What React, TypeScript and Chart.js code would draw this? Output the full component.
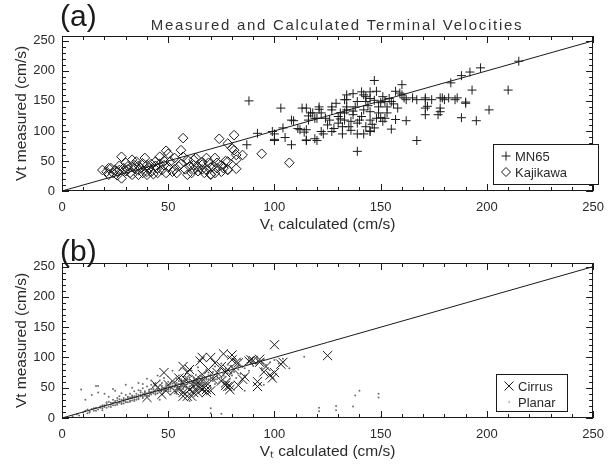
import React, { useEffect, useRef } from 'react';
import { Chart, registerables } from 'chart.js';

Chart.register(...registerables);

// ---------- data ----------
const X_TICKS = [0, 50, 100, 150, 200, 250];
const Y_TICKS = [0, 50, 100, 150, 200, 250];
const TITLE_A = 'Measured and Calculated Terminal Velocities';
const X_LABEL = 'V\u209C calculated (cm/s)';
const Y_LABEL = 'Vt measured (cm/s)';
const ONE_TO_ONE: [number, number][] = [[0, 0], [250, 250]];

const MN65: [number, number][] = [
  [88, 150], [92, 96], [87, 77], [103, 138], [100, 95], [100, 84], [105, 89], [108, 77], [113, 138], [115, 138],
  [116, 125], [121, 136], [111, 104], [109, 117], [114, 98], [119, 87], [115, 84], [120, 84], [123, 95], [127, 135],
  [131, 130], [134, 135], [134, 152], [137, 162], [141, 165], [143, 157], [147, 184], [145, 165], [145, 154], [151, 157],
  [154, 154], [160, 177], [162, 152], [167, 152], [171, 152], [174, 152], [180, 152], [185, 152], [183, 180], [188, 192],
  [192, 198], [197, 205], [193, 168], [201, 135], [190, 146], [188, 122], [195, 117], [210, 168], [215, 216], [177, 127],
  [178, 138], [171, 138], [171, 127], [167, 84], [157, 119], [162, 117], [155, 103], [139, 66], [145, 100], [142, 95],
  [146, 111], [150, 122], [121, 140], [127, 140], [117, 130], [116, 118], [115, 102], [115, 85], [122, 99], [127, 99],
  [132, 95], [139, 95], [145, 99], [147, 105], [151, 116], [130, 124], [130, 113], [133, 118], [136, 116], [140, 118],
  [134, 140], [138, 140], [142, 135], [145, 132], [149, 140], [153, 140], [158, 138], [139, 149], [143, 149], [147, 151],
  [152, 149], [155, 149], [129, 146], [133, 152], [124, 121], [119, 121], [132, 107], [135, 107], [139, 113], [143, 107],
  [149, 130], [153, 130], [152, 121], [157, 166], [159, 163], [161, 155], [133, 130], [137, 127], [145, 118], [148, 121],
  [172, 141], [178, 132], [171, 155], [178, 155], [182, 155], [165, 155], [160, 160], [148, 166], [142, 160], [134, 160],
  [118, 130], [99, 99], [100, 86], [108, 118], [104, 105], [112, 102], [120, 121], [122, 130], [186, 155], [190, 148],
  [179, 155], [125, 110], [128, 104], [136, 101], [141, 124], [126, 118], [131, 120], [137, 133], [144, 142], [150, 147],
  [156, 145],
];

const KAJIKAWA: [number, number][] = [
  [57, 88], [56, 68], [28, 57], [49, 67], [19, 35], [22, 27], [23, 38], [26, 32], [28, 21], [31, 41],
  [32, 30], [35, 49], [37, 38], [36, 27], [40, 43], [39, 55], [42, 32], [44, 49], [45, 38], [46, 57],
  [48, 43], [51, 49], [52, 32], [53, 55], [55, 41], [59, 52], [60, 41], [59, 27], [62, 43], [63, 55],
  [40, 27], [45, 30], [49, 30], [34, 43], [36, 35], [40, 32], [22, 38], [25, 35], [29, 38], [34, 38],
  [74, 87], [78, 79], [81, 93], [78, 36], [81, 68], [82, 52], [85, 60], [82, 37], [77, 50], [75, 43],
  [94, 62], [107, 47], [66, 44], [69, 47], [73, 47], [62, 52], [68, 55], [72, 55], [62, 36], [70, 28],
  [70, 39], [66, 36], [80, 71], [82, 60], [78, 49], [76, 38], [78, 35], [70, 27], [24, 30], [27, 42],
  [30, 33], [33, 27], [38, 46], [41, 38], [43, 28], [47, 35], [50, 40], [53, 36], [56, 45], [58, 36],
  [61, 30], [64, 40], [66, 48], [68, 35], [71, 42], [73, 38], [75, 32], [72, 30], [67, 30], [64, 33],
  [30, 47], [26, 26], [33, 52], [38, 30], [44, 42], [48, 50], [54, 30], [57, 57], [50, 62], [46, 45],
  [42, 45], [36, 42], [31, 36], [27, 35], [21, 32],
];

const CIRRUS: [number, number][] = [
  [100, 121], [125, 103], [104, 92], [98, 71], [100, 75], [95, 76], [96, 85], [92, 60], [86, 68], [83, 54],
  [80, 104], [76, 106], [70, 100], [66, 100], [72, 91], [80, 96], [83, 91], [75, 85], [73, 75], [78, 80],
  [89, 96], [90, 95], [93, 97], [77, 75], [75, 61], [77, 58], [79, 53], [77, 54], [71, 64], [69, 80],
  [66, 72], [60, 80], [57, 85], [48, 75], [52, 61], [50, 55], [44, 55], [45, 50], [40, 34], [47, 39],
  [49, 45], [53, 45], [55, 50], [57, 42], [60, 47], [58, 53], [62, 58], [63, 64], [64, 58], [66, 61],
  [68, 58], [65, 50], [62, 42], [59, 36], [67, 50], [68, 47], [70, 45], [68, 42], [64, 42], [57, 58],
  [55, 66], [103, 89], [92, 52], [99, 66], [85, 64], [65, 94], [59, 75], [58, 64], [62, 52], [64, 52],
  [66, 47], [55, 47], [57, 36], [61, 36], [78, 52], [79, 47], [81, 80], [82, 92], [88, 94], [93, 92],
];

const PLANAR: [number, number][] = [
  [5, 3], [7, 6], [8, 4], [10, 9], [11, 12], [12, 8], [13, 11], [14, 15], [14, 38], [15, 12],
  [16, 17], [17, 14], [17, 42], [18, 19], [19, 16], [20, 21], [20, 18], [9, 47], [17, 53], [21, 23],
  [22, 19], [22, 27], [23, 22], [24, 25], [24, 30], [25, 21], [25, 28], [26, 24], [26, 33], [27, 27],
  [27, 36], [28, 25], [28, 30], [29, 33], [29, 28], [30, 26], [30, 38], [31, 31], [31, 35], [32, 29],
  [32, 40], [33, 33], [33, 37], [34, 31], [34, 44], [35, 36], [35, 40], [25, 45], [28, 41], [22, 35],
  [36, 33], [36, 46], [37, 38], [37, 42], [38, 35], [38, 49], [39, 40], [39, 44], [40, 37], [40, 52],
  [41, 42], [41, 47], [42, 39], [42, 55], [43, 44], [43, 48], [44, 41], [44, 58], [45, 46], [45, 51],
  [46, 43], [46, 62], [47, 49], [47, 53], [48, 45], [48, 66], [49, 50], [49, 56], [50, 47], [50, 60],
  [38, 56], [42, 62], [33, 50], [51, 52], [51, 44], [52, 57], [52, 49], [53, 60], [53, 46], [54, 54],
  [54, 65], [55, 50], [55, 70], [56, 57], [56, 47], [57, 62], [57, 52], [58, 68], [58, 55], [59, 49],
  [59, 74], [60, 58], [60, 63], [61, 54], [61, 78], [62, 66], [62, 50], [63, 59], [63, 71], [64, 55],
  [64, 84], [65, 62], [65, 48], [54, 40], [58, 42], [62, 44], [66, 68], [66, 57], [67, 74], [67, 53],
  [68, 63], [68, 80], [69, 58], [69, 70], [70, 66], [70, 50], [71, 76], [71, 61], [72, 56], [72, 85],
  [73, 70], [73, 64], [74, 78], [74, 59], [75, 67], [75, 90], [76, 73], [76, 62], [77, 81], [77, 68],
  [78, 60], [78, 88], [79, 72], [79, 65], [80, 84], [80, 70], [81, 76], [82, 92], [82, 66], [83, 80],
  [84, 96], [84, 73], [85, 85], [86, 70], [87, 90], [88, 98], [88, 78], [89, 94], [90, 86], [91, 99],
  [92, 90], [93, 95], [94, 82], [95, 97], [96, 88], [98, 92], [100, 96], [102, 90], [104, 98], [70, 16],
  [70, 8], [75, 7], [99, 0], [114, 101], [107, 82], [138, 37], [149, 34], [137, 19], [129, 13], [121, 11],
  [150, 1], [140, 45], [149, 40], [121, 17], [129, 20], [16, 53], [46, 30], [60, 28], [86, 45], [95, 55],
  [12, 14], [13, 9], [15, 16], [16, 12], [18, 17], [19, 21], [19, 13], [21, 17], [21, 26], [23, 25],
  [23, 18], [24, 21], [25, 26], [26, 22], [26, 29], [27, 25], [27, 31], [28, 23], [29, 30], [29, 24],
  [30, 31], [30, 27], [31, 26], [31, 33], [32, 34], [32, 27], [33, 35], [33, 29], [34, 36], [34, 28],
  [35, 34], [35, 30], [36, 38], [36, 31], [37, 36], [37, 45], [38, 39], [38, 33], [39, 42], [39, 37],
  [40, 41], [40, 35], [41, 44], [41, 36], [42, 43], [42, 48], [43, 41], [43, 52], [44, 46], [44, 39],
  [45, 48], [45, 41], [46, 47], [46, 54], [47, 46], [47, 58], [48, 50], [48, 43], [49, 53], [49, 47],
  [50, 51], [50, 44], [51, 56], [51, 48], [52, 53], [52, 61], [53, 51], [53, 57], [54, 58], [54, 50],
  [55, 56], [55, 61], [56, 53], [56, 64], [57, 59], [57, 48], [58, 61], [58, 51], [59, 56], [59, 63],
  [60, 52], [60, 67], [61, 60], [61, 57], [62, 62], [62, 56], [63, 63], [63, 54], [64, 61], [64, 66],
  [65, 58], [65, 70], [66, 63], [66, 60], [67, 65], [67, 58], [68, 67], [68, 56], [69, 64], [69, 75],
  [70, 62], [70, 72], [71, 67], [72, 64], [73, 68], [74, 66], [76, 70], [78, 74], [80, 77], [83, 86],
  [86, 82], [90, 92], [92, 98], [94, 91], [11, 30], [20, 40], [24, 48], [30, 55], [36, 58], [45, 70],
  [52, 78], [56, 82], [40, 65],
];

// ---------- styling helpers ----------
const FONT = "'Liberation Sans', Arial, sans-serif";
const INK = '#1a1a1a';
const TEXT = '#2a2a2a';

const toXY = (arr: [number, number][]) => arr.map(([x, y]) => ({ x, y }));

type LegendItem = { label: string; marker: 'cross' | 'diamond' | 'x' | 'dot' };
type PanelOpts = {
  tag: string;
  tagDy: number;
  title?: string;
  legend: LegendItem[];
  legendBox: { left: number; right: number; top: number; bottom: number };
};

function drawMarker(ctx: CanvasRenderingContext2D, m: LegendItem['marker'], cx: number, cy: number) {
  ctx.beginPath();
  if (m === 'cross') {
    ctx.moveTo(cx - 4.5, cy); ctx.lineTo(cx + 4.5, cy);
    ctx.moveTo(cx, cy - 4.5); ctx.lineTo(cx, cy + 4.5);
    ctx.stroke();
  } else if (m === 'diamond') {
    ctx.moveTo(cx, cy - 4.5); ctx.lineTo(cx + 4.5, cy); ctx.lineTo(cx, cy + 4.5); ctx.lineTo(cx - 4.5, cy); ctx.closePath();
    ctx.stroke();
  } else if (m === 'x') {
    ctx.moveTo(cx - 4.5, cy - 4.5); ctx.lineTo(cx + 4.5, cy + 4.5);
    ctx.moveTo(cx + 4.5, cy - 4.5); ctx.lineTo(cx - 4.5, cy + 4.5);
    ctx.stroke();
  } else {
    ctx.fillStyle = '#777';
    ctx.fillRect(cx - 0.5, cy - 0.5, 1.3, 1.3);
  }
}

const framePlugin = {
  id: 'frame',
  afterDatasetsDraw(chart: any, _args: any, opts: PanelOpts) {
    const { ctx, chartArea: a, scales } = chart;
    const xs = scales.x;
    const ys = scales.y;
    ctx.save();
    ctx.strokeStyle = INK;
    ctx.lineWidth = 1;
    ctx.strokeRect(Math.round(a.left) + 0.5, Math.round(a.top) + 0.5, Math.round(a.right - a.left) - 1, Math.round(a.bottom - a.top) - 1);
    ctx.beginPath();
    for (let v = 0; v <= 250; v += 10) {
      const L = v % 50 === 0 ? 7 : 4;
      const px = Math.round(xs.getPixelForValue(v)) + 0.5;
      ctx.moveTo(px, a.bottom); ctx.lineTo(px, a.bottom - L);
      ctx.moveTo(px, a.top); ctx.lineTo(px, a.top + L);
      const py = Math.round(ys.getPixelForValue(v)) + 0.5;
      ctx.moveTo(a.left, py); ctx.lineTo(a.left + L, py);
      ctx.moveTo(a.right, py); ctx.lineTo(a.right - L, py);
    }
    ctx.stroke();

    // legend box
    const b = opts.legendBox;
    ctx.fillStyle = '#fff';
    const bl = b.left, bt = a.bottom - b.top, bw = b.right - b.left, bh = b.top - b.bottom;
    ctx.fillRect(bl, bt, bw, bh);
    ctx.strokeRect(bl + 0.5, bt + 0.5, bw, bh);
    ctx.font = `13px ${FONT}`;
    ctx.textBaseline = 'middle';
    ctx.textAlign = 'left';
    opts.legend.forEach((it, i) => {
      const cy = bt + 12 + i * 16;
      ctx.strokeStyle = INK;
      drawMarker(ctx, it.marker, bl + 13, cy);
      ctx.fillStyle = TEXT;
      ctx.fillText(it.label, bl + 22, cy + 1);
    });

    // panel tag and title
    ctx.fillStyle = INK;
    ctx.textBaseline = 'alphabetic';
    ctx.font = `30px ${FONT}`;
    ctx.fillText(opts.tag, 60, a.top + opts.tagDy);
    if (opts.title) {
      ctx.font = `15px ${FONT}`;
      (ctx as any).letterSpacing = '1.7px';
      ctx.textAlign = 'center';
      ctx.fillStyle = '#333';
      ctx.fillText(opts.title, 337, a.top - 6);
    }
    ctx.restore();
  },
};

function makeConfig(datasets: any[], panel: PanelOpts, yMax: number): any {
  return {
    type: 'scatter',
    data: { datasets },
    plugins: [framePlugin],
    options: {
      responsive: false,
      animation: false,
      events: [],
      layout: { padding: { top: 36, right: 10, left: 0, bottom: 0 } },
      plugins: {
        legend: { display: false },
        title: { display: false },
        tooltip: { enabled: false },
        frame: panel,
      },
      scales: {
        x: {
          type: 'linear',
          min: 0,
          max: 250,
          afterBuildTicks: (s: any) => { s.ticks = X_TICKS.map((v) => ({ value: v })); },
          afterFit: (s: any) => { s.height = 49; },
          grid: { display: false, drawTicks: false },
          border: { display: false },
          ticks: { color: TEXT, font: { family: FONT, size: 13 }, padding: 9, maxRotation: 0 },
          title: { display: true, text: X_LABEL, color: TEXT, font: { family: FONT, size: 15.5 }, padding: { top: 0, bottom: 6 } },
        },
        y: {
          type: 'linear',
          min: 0,
          max: yMax,
          afterBuildTicks: (s: any) => { s.ticks = Y_TICKS.map((v) => ({ value: v })); },
          afterFit: (s: any) => { s.width = 62; },
          grid: { display: false, drawTicks: false },
          border: { display: false },
          ticks: { color: TEXT, font: { family: FONT, size: 13 }, padding: 7 },
          title: { display: true, text: Y_LABEL, color: TEXT, font: { family: FONT, size: 15.5 }, padding: { top: 12, bottom: 0 } },
        },
      },
    },
  };
}

function lineDataset() {
  return {
    label: '1:1',
    data: toXY(ONE_TO_ONE),
    showLine: true,
    borderColor: INK,
    borderWidth: 1,
    pointRadius: 0,
    fill: false,
  };
}

function Panel({ top, build }: { top: number; build: () => any }) {
  const ref = useRef<HTMLCanvasElement | null>(null);
  useEffect(() => {
    if (!ref.current) return;
    const chart = new Chart(ref.current, build());
    return () => chart.destroy();
  }, []);
  return (
    <div style={{ position: 'absolute', left: 0, top, width: 613, height: 240 }}>
      <canvas ref={ref} width={613} height={240} style={{ display: 'block' }} />
    </div>
  );
}

export default function App() {
  const buildA = () =>
    makeConfig(
      [
        lineDataset(),
        {
          label: 'MN65',
          data: toXY(MN65),
          pointStyle: 'cross',
          pointRadius: 4.5,
          borderColor: INK,
          borderWidth: 1,
          backgroundColor: 'transparent',
        },
        {
          label: 'Kajikawa',
          data: toXY(KAJIKAWA),
          pointStyle: 'rectRot',
          pointRadius: 4.8,
          borderColor: INK,
          borderWidth: 1,
          backgroundColor: 'rgba(0,0,0,0)',
        },
      ],
      {
        tag: '(a)',
        tagDy: -10,
        title: TITLE_A,
        legend: [{ label: 'MN65', marker: 'cross' }, { label: 'Kajikawa', marker: 'diamond' }],
        legendBox: { left: 493, right: 598, top: 47, bottom: 7 },
      },
      258,
    );
  const buildB = () =>
    makeConfig(
      [
        lineDataset(),
        {
          label: 'Planar',
          data: toXY(PLANAR),
          pointStyle: 'circle',
          pointRadius: 1,
          borderWidth: 0,
          backgroundColor: '#6e6e6e',
        },
        {
          label: 'Cirrus',
          data: toXY(CIRRUS),
          pointStyle: 'crossRot',
          pointRadius: 6.5,
          borderColor: INK,
          borderWidth: 1,
          backgroundColor: 'transparent',
        },
      ],
      {
        tag: '(b)',
        tagDy: -2,
        legend: [{ label: 'Cirrus', marker: 'x' }, { label: 'Planar', marker: 'dot' }],
        legendBox: { left: 496, right: 567, top: 44, bottom: 7 },
      },
      256,
    );
  return (
    <div style={{ position: 'absolute', left: 0, top: 0, width: 613, height: 467, background: '#fff' }}>
      <Panel top={0} build={buildA} />
      <Panel top={227} build={buildB} />
    </div>
  );
}
